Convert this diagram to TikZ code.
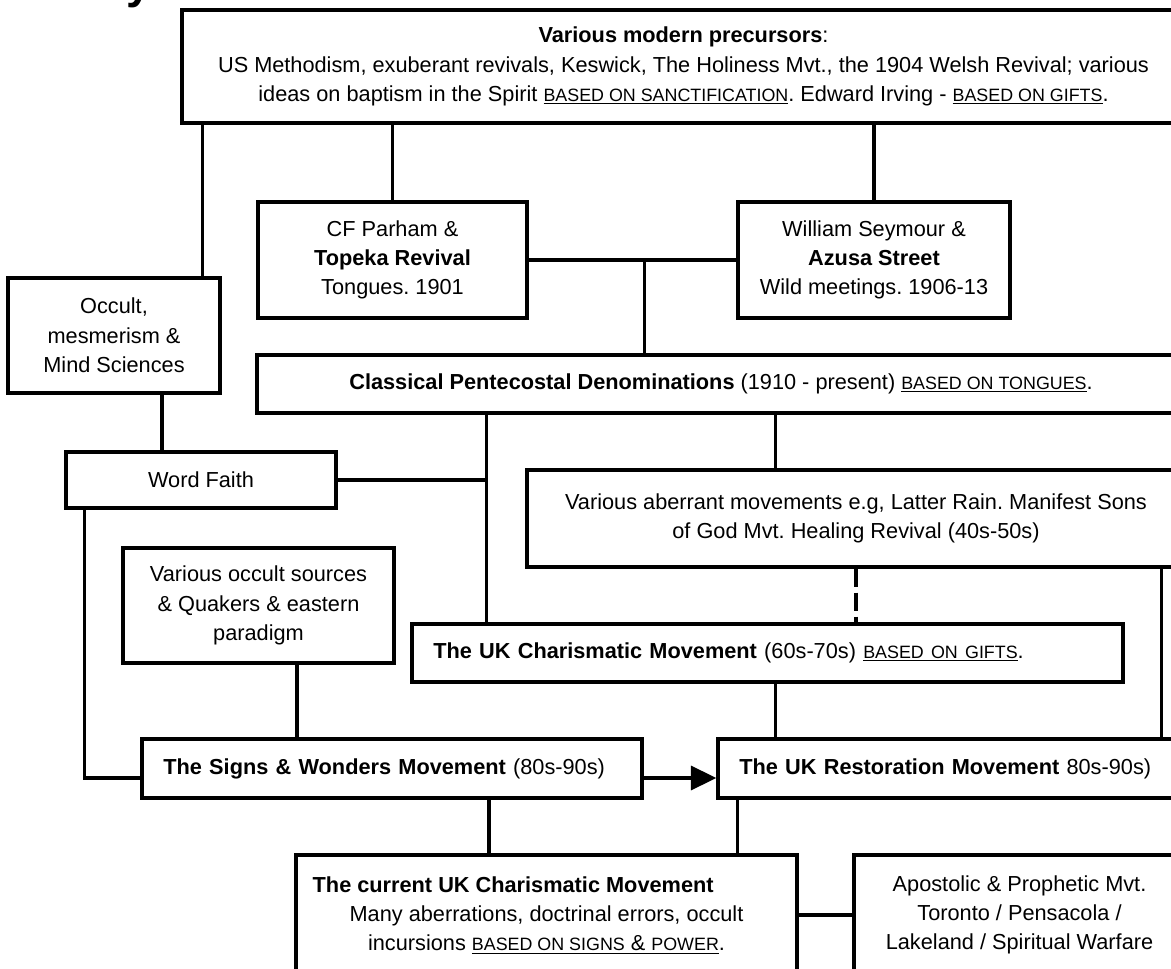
\documentclass[tikz,border=0pt]{standalone}
\usepackage{fontspec}
\setmainfont{Liberation Sans}
\usetikzlibrary{arrows.meta}
\newcommand\sm[1]{{\fontsize{13.4}{15}\selectfont #1}}
\frenchspacing

\begin{document}
\begin{tikzpicture}[x=0.75pt, y=-0.75pt,
	  box/.style={rectangle, draw=black, line width=2.6pt, fill=white, align=center, inner sep=0pt, font=\fontsize{16.3}{22}\selectfont},
	  lbox/.style={box, align=left, inner xsep=16pt},
	  link/.style={line width=2.6pt},
	  dlink/.style={link, dash pattern=on 14pt off 4pt},
	  arrow/.style={link, -{Triangle[length=19pt, width=18pt]}}
	]
	\useasboundingbox (0,0) rectangle (1171,969);

	\node (ttl) [anchor=base west, inner sep=0pt, font=\fontsize{34}{34}\selectfont\bfseries] at (126,-1) {y};

	\node (pre) [box, minimum width=752.25pt, minimum height=84.75pt] at (683.5,66.5) {\textbf{Various modern precursors}:\\ US Methodism, exuberant revivals, Keswick, The Holiness Mvt., the 1904 Welsh Revival; various\\ ideas on baptism in the Spirit \underline{\sm{BASED ON SANCTIFICATION}}. Edward Irving - \underline{\sm{BASED ON GIFTS}}.};
	\node (parham) [box, minimum width=201.75pt, minimum height=87pt] at (392.5,260) {CF Parham \&\\ \textbf{Topeka Revival}\\ Tongues. 1901};
	\node (seymour) [box, minimum width=204pt, minimum height=87pt] at (874,260) {William Seymour \&\\ \textbf{Azusa Street}\\ Wild meetings. 1906-13};
	\node (occult) [box, minimum width=159pt, minimum height=86.25pt] at (114,335.5) {Occult,\\ mesmerism \&\\ Mind Sciences};
	\node (classical) [box, minimum width=696pt, minimum height=43.5pt] at (721,384) {\textbf{Classical Pentecostal Denominations} (1910 - present) \underline{\sm{BASED ON TONGUES}}.};
	\node (wordfaith) [box, minimum width=202.5pt, minimum height=42pt] at (201,480) {Word Faith};
	\node (aberrant) [box, minimum width=493.5pt, minimum height=72.75pt] at (856,518.5) {Various aberrant movements e.g, Latter Rain. Manifest Sons\\ of God Mvt. Healing Revival (40s-50s)};
	\node (occsrc) [box, minimum width=203.25pt, minimum height=86.25pt] at (258.5,605.5) {Various occult sources\\ \& Quakers \& eastern\\ paradigm};
	\node (ukchar) [lbox, text width=501.25pt, minimum height=43.5pt] at (767.5,653) {\textbf{The UK Charismatic Movement} (60s-70s) \underline{\sm{BASED ON GIFTS}}.};
	\node (signs) [lbox, text width=343pt, minimum height=44.25pt] at (392,768.5) {\textbf{The Signs \& Wonders Movement} (80s-90s)};
	\node (restoration) [lbox, text width=318.25pt, minimum height=44.25pt] at (951.5,768.5) {\textbf{The UK Restoration Movement} 80s-90s)};
	\node (current) [box, minimum width=375.75pt, minimum height=90pt] at (546.5,915) {\textbf{The current UK Charismatic Movement}\hspace*{50pt}\\ Many aberrations, doctrinal errors, occult\\ incursions \underline{\sm{BASED ON SIGNS} \& \sm{POWER}}.};
	\node (apostolic) [box, minimum width=248.25pt, minimum height=90pt] at (1019.5,915) {Apostolic \& Prophetic Mvt.\\ Toronto / Pensacola /\\ Lakeland / Spiritual Warfare};

	\coordinate (occjoin) at ([xshift=-14.25pt]occult.north east);
	\coordinate (tjoin) at ([xshift=87pt]parham.east);
	\coordinate (wfjoin) at ([xshift=36pt]occult.south);
	\coordinate (cpjoin) at ([xshift=57pt]ukchar.north west);
	\coordinate (abjoin) at ([xshift=187.5pt]aberrant.north west);
	\coordinate (rmjoin) at ([xshift=-18.75pt]aberrant.south east);
	\coordinate (osjoin) at ([xshift=29pt]occsrc.south);
	\coordinate (wfdown) at ([xshift=15pt]wordfaith.south west);
	\coordinate (swin) at ([yshift=-7.125pt]signs.west);
	\coordinate (cujoin) at ([xshift=72.75pt]signs.south);
	\coordinate (rejoin) at ([xshift=15.75pt]restoration.south west);

	\draw [link] (occjoin) -- (occjoin |- pre.south);
	\draw [link] (parham.north) -- (parham.north |- pre.south);
	\draw [link] (seymour.north) -- (seymour.north |- pre.south);
	\draw [link] (parham.east) -- (seymour.west);
	\draw [link] (tjoin) -- (tjoin |- classical.north);
	\draw [link] (wfjoin) -- (wfjoin |- wordfaith.north);
	\draw [link] (cpjoin |- classical.south) -- (cpjoin);
	\draw [link] (wordfaith.east) -- (wordfaith.east -| cpjoin);
	\draw [link] (abjoin |- classical.south) -- (abjoin);
	\draw [dlink] (aberrant.south) -- (aberrant.south |- ukchar.north);
	\draw [link] (rmjoin) -- (rmjoin |- restoration.north);
	\draw [link] (abjoin |- ukchar.south) -- (abjoin |- restoration.north);
	\draw [link] (osjoin) -- (osjoin |- signs.north);
	\draw [link] (wfdown) |- (swin);
	\draw [arrow] ([yshift=-7.125pt]signs.east) -- (swin -| restoration.west);
	\draw [link] (cujoin) -- (cujoin |- current.north);
	\draw [link] (rejoin) -- (rejoin |- current.north);
	\draw [link] (current.east) -- (apostolic.west);

\end{tikzpicture}
\end{document}
